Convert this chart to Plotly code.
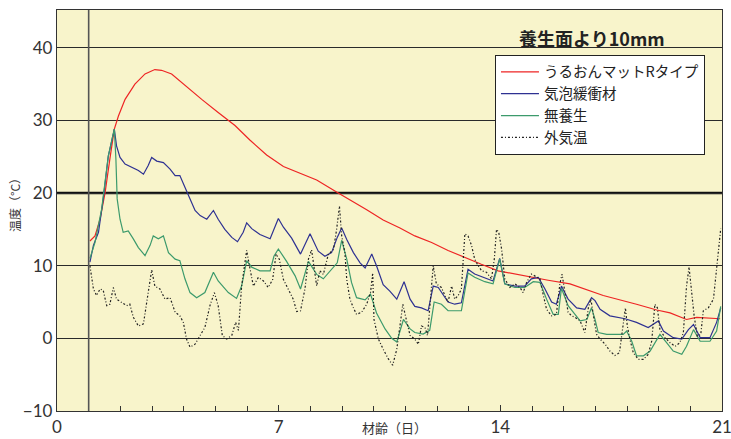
import plotly.graph_objects as go

# 材齢（日）と温度（°C）— 養生面より10mm
red_days = [1.04, 1.2, 1.36, 1.52, 1.67, 1.81, 1.94, 2.15, 2.46, 2.78, 3.09, 3.30, 3.62, 4.04, 4.57,
            5.09, 5.62, 6.09, 6.62, 7.15, 7.67, 8.2, 8.88, 9.25, 9.78, 10.3, 10.83, 11.3, 11.83,
            12.35, 12.88, 13.4, 13.93, 14.46, 14.98, 15.51, 16.2, 16.83, 17.25, 18.3, 18.94,
            19.36, 19.88, 20.2, 20.5, 20.94]
red_temp = [13.4, 14.1, 16.4, 20.1, 24.7, 28.8, 30.6, 32.9, 35.0, 36.4, 37.0, 36.9, 36.4, 34.8, 32.9,
            31.1, 29.3, 27.3, 25.25, 23.65, 22.7, 21.8, 20.0, 19.1, 17.7, 16.3, 15.2, 14.1, 13.2,
            12.1, 11.1, 10.2, 9.3, 8.85, 8.4, 8.0, 7.5, 6.5, 5.9, 4.7, 3.9,
            3.5, 2.6, 2.9, 2.8, 2.7]

blue_days = [1.04, 1.15, 1.31, 1.46, 1.62, 1.73, 1.81, 1.88, 1.99, 2.15, 2.36, 2.57, 2.73, 2.88, 2.99,
             3.15, 3.36, 3.57, 3.73, 3.88, 4.04, 4.2, 4.36, 4.52, 4.73, 4.94, 5.09, 5.3, 5.52, 5.7,
             5.88, 5.99, 6.15, 6.41, 6.73, 6.99, 7.15, 7.41, 7.69, 7.99, 8.25, 8.46, 8.67, 8.85,
             8.99, 9.15, 9.36, 9.57, 9.73, 9.94, 10.09, 10.3, 10.51, 10.73, 10.96, 11.15, 11.3,
             11.51, 11.72, 11.88, 12.04, 12.35, 12.56, 12.77, 12.98, 13.19, 13.51, 13.77, 13.98,
             14.14, 14.46, 14.77, 14.98, 15.2, 15.41, 15.62, 15.77, 15.93, 16.14, 16.41, 16.67,
             16.88, 16.99, 17.15, 17.46, 17.94, 18.3, 18.67, 18.99, 19.15, 19.46, 19.73, 19.94,
             20.1, 20.31, 20.62, 20.83, 20.96]
blue_temp = [10.5, 12.8, 14.6, 19.2, 25.1, 27.4, 28.8, 26.5, 24.9, 24.0, 23.5, 23.1, 22.6, 23.8, 24.9,
             24.4, 24.2, 23.3, 22.4, 22.4, 20.8, 19.2, 17.6, 16.9, 16.4, 17.6, 16.4, 15.0, 13.9, 13.3,
             14.6, 15.9, 15.1, 14.3, 13.7, 16.5, 15.3, 13.8, 11.6, 14.4, 12.0, 11.3, 11.8, 13.9,
             15.2, 13.6, 11.8, 10.4, 9.7, 11.6, 10.0, 7.4, 6.5, 5.4, 7.8, 5.4, 4.4,
             4.2, 3.8, 7.2, 7.0, 5.0, 4.7, 4.9, 9.5, 8.85, 8.3, 7.9, 11.0,
             7.5, 7.2, 7.2, 8.2, 8.4, 6.8, 5.0, 4.7, 7.2, 5.4, 4.2, 4.0,
             5.6, 5.2, 4.0, 3.1, 2.7, 2.2, 1.5, 2.4, 1.0, 0.1, -0.1, 1.2,
             1.9, 0.1, 0.1, 2.2, 4.2]

green_days = [1.04, 1.2, 1.41, 1.62, 1.81, 1.86, 1.9, 1.99, 2.09, 2.25, 2.41, 2.57, 2.78, 2.94, 3.04,
              3.2, 3.36, 3.52, 3.73, 3.88, 4.04, 4.2, 4.41, 4.67, 4.94, 5.09, 5.41, 5.67, 5.83, 5.99,
              6.15, 6.41, 6.73, 6.85, 6.99, 7.25, 7.52, 7.69, 7.94, 8.2, 8.41, 8.67, 8.85, 8.99,
              9.15, 9.3, 9.46, 9.73, 9.9, 10.09, 10.36, 10.57, 10.73, 10.94, 11.15, 11.3, 11.56,
              11.77, 11.91, 12.14, 12.35, 12.56, 12.77, 12.98, 13.19, 13.51, 13.77, 13.98, 14.14,
              14.46, 14.77, 15.04, 15.25, 15.46, 15.67, 15.83, 15.93, 16.14, 16.35, 16.52, 16.73,
              16.88, 16.99, 17.09, 17.36, 17.88, 17.99, 18.15, 18.3, 18.52, 18.73, 18.92, 19.04,
              19.25, 19.46, 19.73, 19.88, 20.1, 20.31, 20.62, 20.83, 20.96]
green_temp = [11.0, 13.2, 17.8, 25.1, 28.8, 24.7, 19.2, 16.4, 14.6, 14.8, 13.7, 12.5, 11.4, 12.8, 14.1,
              13.7, 14.1, 11.8, 10.9, 10.7, 8.2, 6.3, 5.6, 6.3, 9.1, 7.9, 6.3, 5.5, 7.2, 10.7,
              9.8, 9.3, 9.3, 11.3, 12.3, 10.6, 8.6, 6.8, 10.6, 8.8, 8.2, 9.5, 10.4, 13.5,
              10.9, 7.7, 5.6, 5.3, 6.1, 3.5, 1.3, 0.0, -0.5, 2.6, 1.3, 0.8, 0.6,
              1.1, 5.0, 4.7, 3.8, 3.8, 3.8, 9.0, 8.4, 7.8, 7.5, 10.9, 7.5,
              7.0, 7.0, 7.8, 7.7, 5.4, 3.3, 3.3, 6.9, 4.5, 3.3, 2.4, 2.6,
              4.2, 2.6, 0.8, 0.55, 0.55, 1.0, -0.4, -2.4, -2.4, -1.75, -0.4, 0.55,
              -0.6, -1.75, -2.2, -1.1, 1.2, -0.4, -0.4, 1.0, 4.4]

air_days = [1.04, 1.09, 1.15, 1.25, 1.36, 1.46, 1.57, 1.67, 1.78, 1.88,
            2.04, 2.2, 2.3, 2.41, 2.57, 2.73, 2.88, 2.99, 3.09, 3.25,
            3.41, 3.57, 3.73, 3.88, 3.99, 4.09, 4.2, 4.36, 4.52, 4.67,
            4.83, 4.97, 5.09, 5.22, 5.36, 5.52, 5.64, 5.73, 5.83, 5.99,
            6.09, 6.2, 6.36, 6.52, 6.67, 6.81, 6.92, 7.02, 7.15, 7.3,
            7.46, 7.57, 7.69, 7.83, 7.94, 8.04, 8.13, 8.2, 8.3, 8.41,
            8.57, 8.73, 8.83, 8.92, 8.99, 9.09, 9.15, 9.25, 9.36, 9.46,
            9.62, 9.78, 9.9, 9.97, 10.01, 10.15, 10.3, 10.46, 10.6, 10.73,
            10.83, 10.92, 11.04, 11.15, 11.3, 11.41, 11.51, 11.62, 11.7, 11.77,
            11.88, 11.98, 12.14, 12.25, 12.35, 12.46, 12.56, 12.67, 12.77, 12.88,
            12.98, 13.09, 13.19, 13.3, 13.41, 13.56, 13.72, 13.81, 13.88, 13.95,
            14.04, 14.14, 14.3, 14.46, 14.62, 14.72, 14.83, 14.98, 15.14, 15.25,
            15.35, 15.46, 15.62, 15.77, 15.88, 15.95, 16.04, 16.14, 16.25, 16.36,
            16.52, 16.67, 16.78, 16.86, 16.96, 17.04, 17.15, 17.31, 17.46, 17.62,
            17.76, 17.86, 17.95, 18.01, 18.09, 18.2, 18.36, 18.52, 18.67, 18.78,
            18.88, 18.96, 19.04, 19.2, 19.36, 19.52, 19.67, 19.78, 19.88, 19.96,
            20.04, 20.12, 20.22, 20.33, 20.41, 20.57, 20.73, 20.83, 20.9, 20.96]
air_temp = [10.0, 8.2, 6.8, 5.9, 6.8, 6.6, 4.5, 4.7, 7.0, 5.4,
            5.0, 4.5, 4.7, 2.9, 1.7, 2.0, 6.3, 9.4, 7.2, 6.8,
            5.4, 5.6, 3.6, 3.1, 2.2, -0.1, -1.2, -0.8, 0.4, 1.5,
            4.5, 6.3, 4.5, 0.4, -0.1, 0.4, 2.2, 1.1, 7.2, 12.1,
            9.7, 7.2, 8.4, 7.9, 7.0, 8.1, 11.6, 10.9, 8.1, 6.8,
            5.4, 3.7, 3.8, 6.8, 10.9, 12.2, 9.0, 7.2, 9.3, 8.8,
            11.6, 12.2, 15.0, 18.2, 14.1, 11.8, 8.1, 5.4, 4.2, 3.3,
            3.6, 4.7, 6.3, 9.0, 2.6, -0.1, -1.5, -2.8, -3.7, -1.5,
            1.7, 4.7, 2.4, 0.4, -0.1, -0.8, 1.7, 1.5, 0.4, 4.0,
            10.0, 7.5, 7.0, 5.9, 5.0, 7.2, 5.4, 5.9, 6.8, 14.4,
            14.1, 12.8, 10.9, 10.0, 9.3, 9.1, 8.2, 10.9, 15.0, 14.6,
            12.3, 8.2, 7.0, 7.5, 7.0, 6.3, 7.7, 8.85, 8.4, 8.2,
            6.1, 4.0, 3.1, 3.3, 7.5, 8.85, 6.3, 3.6, 3.1, 2.9,
            2.4, 0.8, 4.2, 5.4, 2.6, 0.55, -0.1, -0.8, -1.75, -2.35,
            -2.0, 1.2, 4.2, 1.7, -0.1, -2.0, -2.9, -2.9, -2.2, -0.4,
            4.7, 4.2, 1.2, 0.1, -0.6, -1.1, -0.6, 0.8, 7.2, 9.8,
            6.5, 3.1, 0.3, 0.55, 3.8, 4.2, 5.4, 9.5, 12.8, 15.1]

series_names = ["うるおんマットRタイプ", "気泡緩衝材", "無養生", "外気温"]
y_ticks = [-10, 0, 10, 20, 30, 40]
placement_day = 1      # 打設日の縦線
heavy_grid_temp = 20   # 太線の温度

JP = "Noto Sans CJK JP"
NUM = "Lato"

fig = go.Figure()
fig.add_trace(go.Scatter(x=red_days, y=red_temp, mode="lines", name=series_names[0],
                         line=dict(color="#EE2424", width=1.2)))
fig.add_trace(go.Scatter(x=blue_days, y=blue_temp, mode="lines", name=series_names[1],
                         line=dict(color="#2E3192", width=1.2)))
fig.add_trace(go.Scatter(x=green_days, y=green_temp, mode="lines", name=series_names[2],
                         line=dict(color="#3C9A6C", width=1.2)))
fig.add_trace(go.Scatter(x=air_days, y=air_temp, mode="lines", name=series_names[3],
                         line=dict(color="#222222", width=1.2, dash="2px,2px,1px,2px")))

fig.add_shape(type="line", xref="x", yref="y", x0=placement_day, x1=placement_day,
              y0=-10, y1=45.2, line=dict(color="#555555", width=1.6), layer="above")
fig.add_shape(type="line", xref="paper", yref="y", x0=0, x1=1,
              y0=heavy_grid_temp, y1=heavy_grid_temp, line=dict(color="#111111", width=2.6),
              layer="below")

fig.update_layout(
    width=731, height=439,
    margin=dict(l=57, r=9, t=10, b=28),
    paper_bgcolor="white",
    plot_bgcolor="#F8F4CB",
    template="none",
    showlegend=True,
    legend=dict(x=0.6586, y=0.888, xanchor="left", yanchor="top",
                bgcolor="white", bordercolor="#222222", borderwidth=1,
                font=dict(family=JP, size=14.5, color="#222222"),
                itemwidth=38, tracegroupgap=0),
    xaxis=dict(range=[0, 21], tick0=0, dtick=7, ticks="inside", ticklen=6,
               tickcolor="#333333", showgrid=False, zeroline=False,
               showline=True, linecolor="#333333", linewidth=1.3, mirror=True,
               tickfont=dict(family=NUM, size=17, color="#333333"),
               ticklabeloverflow="allow",
               minor=dict(dtick=1, tick0=0, ticks="inside", ticklen=5, tickcolor="#333333"),
               automargin=False),
    yaxis=dict(range=[-10, 45.2], tickvals=y_ticks, ticks="", showgrid=True,
               gridcolor="#2a2a2a", gridwidth=1.3, zeroline=False,
               showline=True, linecolor="#333333", linewidth=1.3, mirror=True,
               tickfont=dict(family=NUM, size=17, color="#333333"),
               automargin=False),
    annotations=[
        dict(text="<b>養生面より10mm</b>", xref="paper", yref="paper", x=0.8045, y=0.930,
             xanchor="center", yanchor="middle", showarrow=False,
             font=dict(family=JP, size=18, color="#222222")),
        dict(text="温度（°C）", xref="paper", yref="paper", x=-0.0647, y=0.521,
             xanchor="center", yanchor="middle", textangle=-90, showarrow=False,
             font=dict(family=JP, size=12, color="#333333")),
        dict(text="材齢（日）", xref="paper", yref="paper", x=0.508, y=-0.042,
             xanchor="center", yanchor="middle", showarrow=False,
             font=dict(family=JP, size=13, color="#333333")),
    ],
)

fig.write_html("out.html")
